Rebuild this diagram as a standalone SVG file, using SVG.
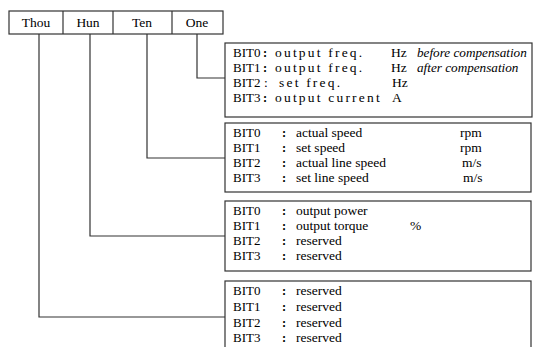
<svg xmlns="http://www.w3.org/2000/svg" width="539" height="347" viewBox="0 0 539 347">
<style>
rect{fill:#fff;stroke:#333;stroke-width:1.2}
.c line,.c polyline{fill:none;stroke:#333;stroke-width:1.2}
text{font-family:'Liberation Serif','Times New Roman',Times,serif;font-size:13.5px;fill:#000}
.h{text-anchor:middle}
.b{font-size:13px}
.k{text-anchor:middle;font-family:'Noto Sans CJK SC',sans-serif;font-weight:bold;font-size:11px}
.i{font-style:italic;font-size:13.2px}
.w{letter-spacing:2.2px}
</style>
<g id="header">
<rect x="9" y="11" width="214" height="23"/>
<line x1="63" y1="11" x2="63" y2="34" stroke="#333" stroke-width="1.2"/>
<line x1="113" y1="11" x2="113" y2="34" stroke="#333" stroke-width="1.2"/>
<line x1="172" y1="11" x2="172" y2="34" stroke="#333" stroke-width="1.2"/>
<text class="h" x="36" y="27">Thou</text>
<text class="h" x="88" y="27">Hun</text>
<text class="h" x="142" y="27">Ten</text>
<text class="h" x="197" y="27">One</text>
</g>
<g class="c" id="connectors">
<polyline points="197,34 197,78 225,78"/>
<polyline points="147,34 147,158 225,158"/>
<polyline points="90,34 90,236 225,236"/>
<polyline points="39,34 39,317 225,317"/>
</g>
<g id="one">
<rect x="225" y="43" width="307" height="74"/>
<text class="b" x="233" y="57">BIT0</text><text class="k" x="265" y="57">:</text><text class="w" x="275" y="57">output freq.</text><text x="391" y="57">Hz</text><text class="i" x="417" y="57">before compensation</text>
<text class="b" x="233" y="72">BIT1</text><text class="k" x="265" y="72">:</text><text class="w" x="275" y="72">output freq.</text><text x="391" y="72">Hz</text><text class="i" x="417" y="72">after compensation</text>
<text class="b" x="233" y="87">BIT2</text><text x="264" y="87">:</text><text class="w" x="279" y="87">set freq.</text><text x="392" y="87">Hz</text>
<text class="b" x="233" y="102">BIT3</text><text class="k" x="265" y="102">:</text><text class="w" x="275" y="102">output current</text><text x="392" y="102">A</text>
</g>
<g id="ten">
<rect x="225" y="123" width="306" height="69"/>
<text class="b" x="233" y="137">BIT0</text><text class="k" x="284" y="137">:</text><text x="296" y="137">actual speed</text><text x="460" y="137">rpm</text>
<text class="b" x="233" y="152">BIT1</text><text class="k" x="284" y="152">:</text><text x="296" y="152">set speed</text><text x="460" y="152">rpm</text>
<text class="b" x="233" y="167">BIT2</text><text class="k" x="284" y="167">:</text><text x="296" y="167">actual line speed</text><text x="462" y="167">m/s</text>
<text class="b" x="233" y="182">BIT3</text><text class="k" x="284" y="182">:</text><text x="296" y="182">set line speed</text><text x="463" y="182">m/s</text>
</g>
<g id="hun">
<rect x="225" y="201" width="306" height="70"/>
<text class="b" x="233" y="215">BIT0</text><text class="k" x="284" y="215">:</text><text x="296" y="215">output power</text>
<text class="b" x="233" y="230">BIT1</text><text class="k" x="284" y="230">:</text><text x="296" y="230">output torque</text><text x="410" y="230">%</text>
<text class="b" x="233" y="245">BIT2</text><text class="k" x="284" y="245">:</text><text x="296" y="245">reserved</text>
<text class="b" x="233" y="260">BIT3</text><text class="k" x="284" y="260">:</text><text x="296" y="260">reserved</text>
</g>
<g id="thou">
<rect x="225" y="281" width="306" height="80"/>
<text class="b" x="233" y="295">BIT0</text><text class="k" x="284" y="295">:</text><text x="296" y="295">reserved</text>
<text class="b" x="233" y="311">BIT1</text><text class="k" x="284" y="311">:</text><text x="296" y="311">reserved</text>
<text class="b" x="233" y="327">BIT2</text><text class="k" x="284" y="327">:</text><text x="296" y="327">reserved</text>
<text class="b" x="233" y="342">BIT3</text><text class="k" x="284" y="342">:</text><text x="296" y="342">reserved</text>
</g>
</svg>
